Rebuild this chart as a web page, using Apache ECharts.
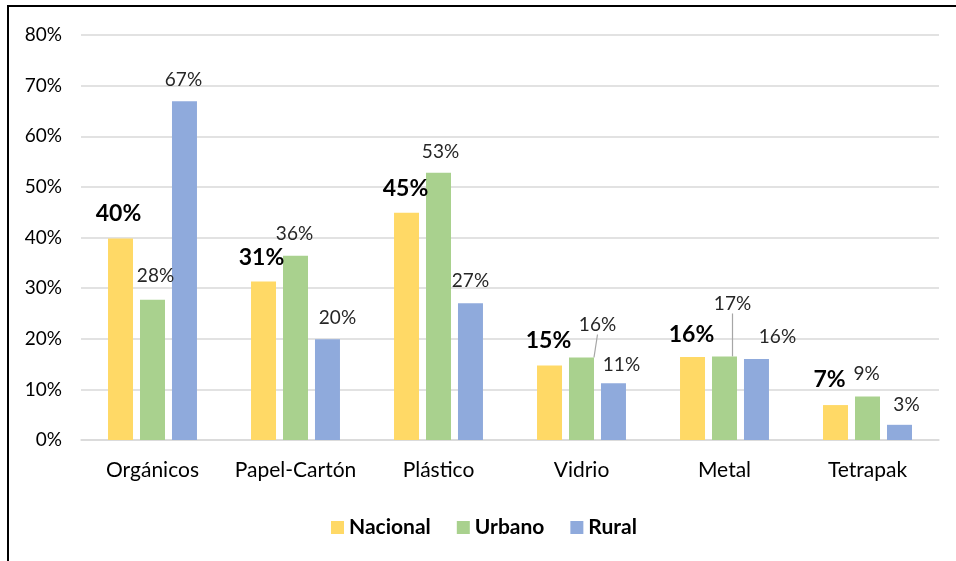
<!DOCTYPE html>
<html lang="es">
<head>
  <meta charset="UTF-8">
  <title>Materiales separados</title>
  <script src="https://cdn.jsdelivr.net/npm/echarts@6/dist/echarts.min.js"></script>
  <style>
    html, body { margin: 0; padding: 0; background: #fff; }
    #wrap { position: relative; width: 956px; height: 561px; overflow: hidden; }
    #frame { position: absolute; left: 7px; top: 5px; right: -10px; bottom: -10px;
             border-top: 2px solid #000; border-left: 2px solid #000; }
    #chart { position: absolute; left: 0; top: 0; width: 956px; height: 561px; }
  </style>
</head>
<body>
  <div id="wrap">
    <div id="frame"></div>
    <div id="chart"></div>
  </div>
  <script>
    // datos (porcentajes)
    const categories = ['Orgánicos', 'Papel-Cartón', 'Plástico', 'Vidrio', 'Metal', 'Tetrapak'];
    const nacional = [39.8, 31.3, 44.9, 14.7, 16.4, 6.9];
    const urbano   = [27.7, 36.4, 52.8, 16.3, 16.5, 8.6];
    const rural    = [66.9, 19.9, 27.0, 11.2, 16.0, 3.0];
    const yTicks = [0, 10, 20, 30, 40, 50, 60, 70, 80];

    // desplazamiento manual de etiquetas (como en el original)
    const labelShift = [
      [[-2, -8], [-2, -7], [-1, -8], [-1, -9], [-1, -6], [-6, -9]],
      [[3, -9], [-1, -7], [2, -6], [16, -18], [8, -38], [-1, -8]],
      [[-1, -7], [10, -7], [0, -8], [8, -4], [21, -8], [7, -5]]
    ];
    const leaderLines = [3, 4]; // urbano: Vidrio, Metal

    const font = 'Lato, "Liberation Sans", sans-serif';
    const colors = ['#FFD966', '#A9D18E', '#8FAADC'];
    const pct = p => Math.round(p.value) + '%';

    const chart = echarts.init(document.getElementById('chart'));

    function makeSeries(name, values, idx, bold) {
      return {
        name: name,
        type: 'bar',
        data: values.map((v, i) => ({
          value: v,
          labelLine: { show: idx === 1 && leaderLines.includes(i) }
        })),
        barGap: '28%',
        barCategoryGap: '37.8%',
        itemStyle: { color: colors[idx] },
        label: {
          show: true,
          position: 'top',
          distance: 5,
          formatter: pct,
          fontFamily: font,
          fontSize: bold ? 23 : 19,
          fontWeight: bold ? 'bold' : 'normal',
          color: bold ? '#000' : '#262626'
        },
        labelLine: { lineStyle: { color: '#a6a6a6', width: 1.2 } },
        labelLayout: p => ({ dx: labelShift[idx][p.dataIndex][0], dy: labelShift[idx][p.dataIndex][1] })
      };
    }

    chart.setOption({
      animation: false,
      color: colors,
      grid: { left: 81, right: 17, top: 35, bottom: 121 },
      legend: {
        left: 326,
        top: 512,
        itemWidth: 13,
        itemHeight: 13,
        itemGap: 26,
        icon: 'rect',
        textStyle: { fontFamily: font, fontSize: 21, fontWeight: 'bold', color: '#000' },
        data: ['Nacional', 'Urbano', 'Rural']
      },
      xAxis: {
        type: 'category',
        data: categories,
        axisLine: { show: true, lineStyle: { color: '#d9d9d9', width: 1.5 } },
        axisTick: { show: false },
        axisLabel: { fontFamily: font, fontSize: 21, color: '#000', margin: 20, interval: 0 }
      },
      yAxis: {
        type: 'value',
        min: yTicks[0],
        max: yTicks[yTicks.length - 1],
        interval: yTicks[1] - yTicks[0],
        axisLine: { show: false },
        axisTick: { show: false },
        splitLine: { lineStyle: { color: '#d9d9d9', width: 1.5 } },
        axisLabel: { fontFamily: font, fontSize: 19, color: '#000', margin: 19, formatter: '{value}%' }
      },
      series: [
        makeSeries('Nacional', nacional, 0, true),
        makeSeries('Urbano', urbano, 1, false),
        makeSeries('Rural', rural, 2, false)
      ]
    });
  </script>
</body>
</html>
